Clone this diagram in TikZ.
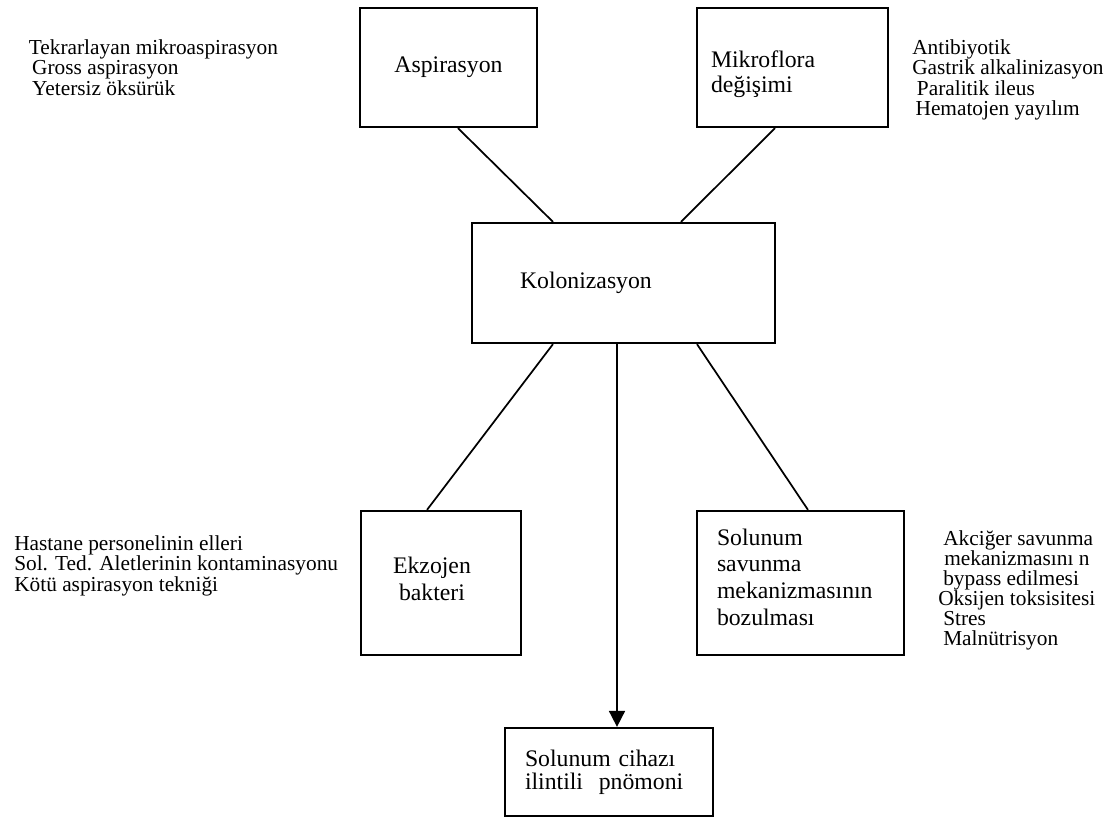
\documentclass[tikz,border=0pt]{standalone}
\usepackage{fontspec}
\setmainfont{Liberation Serif}
\usetikzlibrary{arrows.meta}

\begin{document}
\begin{tikzpicture}[x=0.75pt,y=-0.75pt,
    box/.style={draw,line width=1.7pt,inner sep=0pt,font=\fontsize{17.8}{20}\selectfont},
    boxtext/.style={inner sep=0pt,font=\fontsize{17.8}{20}\selectfont},
    side/.style={anchor=north west,inner sep=0pt,align=left,font=\fontsize{16}{15.6}\selectfont},
    link/.style={line width=1.3pt}]
    \useasboundingbox (0,0) rectangle (1112,819);

    \node[box,minimum width=132.75pt,minimum height=89.25pt] (asp) at (448.5,67.5) {Aspirasyon};
    \node[box,minimum width=143.25pt,minimum height=89.25pt] (mik) at (792.5,67.5) {};
    \node[boxtext,text width=122.25pt,align=left,font=\fontsize{17.8}{19}\selectfont] (miktitle)
        at ([yshift=-5.2pt]mik.center) {Mikroflora\\değişimi};
    \node[box,minimum width=227.25pt,minimum height=90pt,text width=155.25pt,align=left] (kol) at (623.5,283) {Kolonizasyon};
    \node[box,minimum width=120pt,minimum height=108pt] (ekz) at (441,583) {};
    \node[boxtext,align=center] (ekztitle) at ([xshift=-6.75pt,yshift=3pt]ekz.center) {Ekzojen\\bakteri};
    \node[box,minimum width=155.25pt,minimum height=108pt] (sav) at (800.5,583) {};
    \node[boxtext,text width=125.25pt,align=left] (savtitle)
        at ([yshift=4.5pt]sav.center) {Solunum\\savunma\\mekanizmasının\\bozulması};
    \node[box,minimum width=156pt,minimum height=66pt,text width=126pt,align=left,
        font=\fontsize{17.8}{17.2}\selectfont] (pno) at (609,772) {Solunum cihazı\\ilintili\ \ pnömoni};

    \node[side] (asptxt) at (28.6,39) {Tekrarlayan mikroaspirasyon\\\hspace*{2.5pt}Gross aspirasyon\\\hspace*{2.5pt}Yetersiz öksürük};
    \node[side,font=\fontsize{16}{15.4}\selectfont] (miktxt) at (912,39) {Antibiyotik\\Gastrik alkalinizasyon\\\hspace*{3.5pt}Paralitik ileus\\\hspace*{2.5pt}Hematojen yayılım};
    \node[side] (ekztxt) at (14,535) {Hastane personelinin elleri\\Sol. Ted. Aletlerinin kontaminasyonu\\Kötü aspirasyon tekniği};
    \node[side,font=\fontsize{16}{15}\selectfont] (savtxt) at (938,530) {\hspace*{3.75pt}Akciğer savunma\\\hspace*{4.5pt}mekanizmasını n\\\hspace*{3.75pt}bypass edilmesi\\Oksijen toksisitesi\\\hspace*{3.75pt}Stres\\\hspace*{3.75pt}Malnütrisyon};

    \draw[link] ([xshift=7.1pt]asp.south) -- ([xshift=-52.9pt]kol.north);
    \draw[link] ([xshift=-13.1pt]mik.south) -- ([xshift=43.1pt]kol.north);
    \draw[link] ([xshift=-52.9pt]kol.south) -- ([xshift=-10.5pt]ekz.north);
    \draw[link] ([xshift=55.1pt]kol.south) -- ([xshift=5.6pt]sav.north);
    \draw[link,-{Triangle[length=12pt,width=12pt]}] ([xshift=-4.9pt]kol.south) -- ([xshift=6pt]pno.north);

\end{tikzpicture}
\end{document}
